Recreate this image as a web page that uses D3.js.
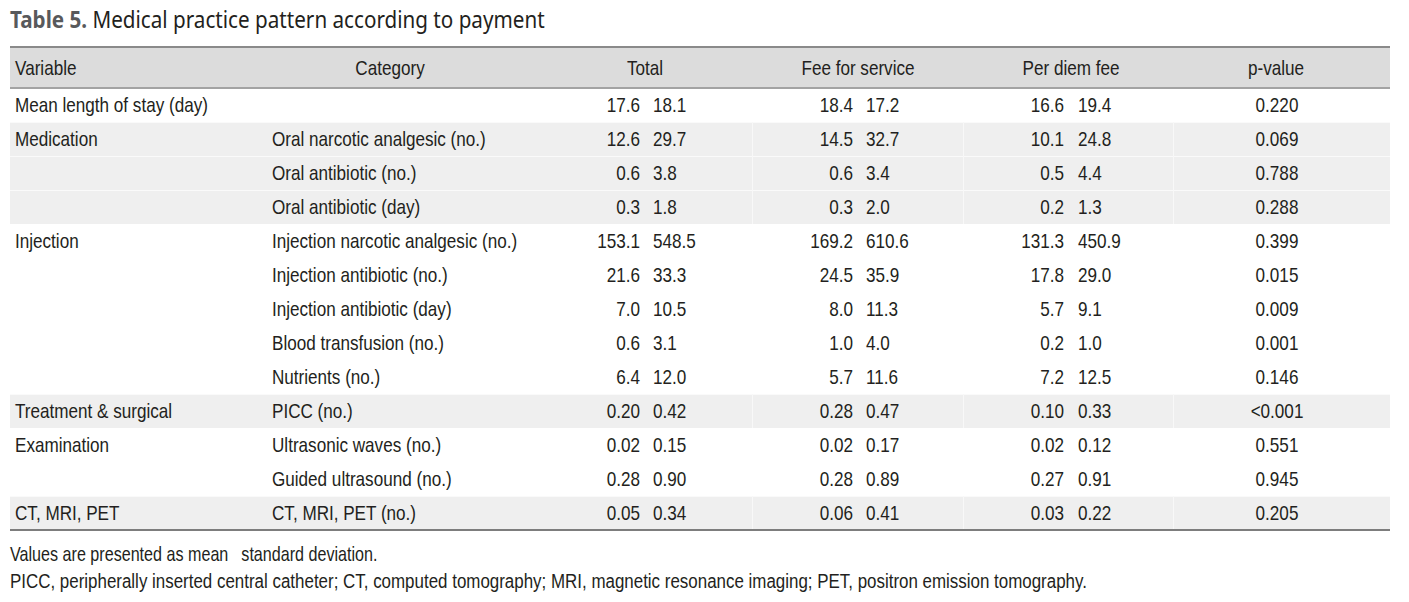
<!DOCTYPE html>
<html>
<head>
<meta charset="utf-8">
<script src="https://cdn.jsdelivr.net/npm/d3@7"></script>
<style>
html,body{margin:0;padding:0;background:#fff;}
svg{display:block;}
</style>
</head>
<body>
<svg id="chart" width="1409" height="602"></svg>
<script>
// ---- data ----
const titleBold = "Table 5.";
const titleText = "Medical practice pattern according to payment";
const headers = ["Variable", "Category", "Total", "Fee for service", "Per diem fee", "p-value"];
const variables = ["Mean length of stay (day)", "Medication", "", "", "Injection", "", "", "", "", "Treatment & surgical", "Examination", "", "CT, MRI, PET"];
const groups = [0, 1, 1, 1, 2, 2, 2, 2, 2, 3, 4, 4, 5];
const categories = ["", "Oral narcotic analgesic (no.)", "Oral antibiotic (no.)", "Oral antibiotic (day)", "Injection narcotic analgesic (no.)", "Injection antibiotic (no.)", "Injection antibiotic (day)", "Blood transfusion (no.)", "Nutrients (no.)", "PICC (no.)", "Ultrasonic waves (no.)", "Guided ultrasound (no.)", "CT, MRI, PET (no.)"];
const totalMean = ["17.6", "12.6", "0.6", "0.3", "153.1", "21.6", "7.0", "0.6", "6.4", "0.20", "0.02", "0.28", "0.05"];
const totalSD   = ["18.1", "29.7", "3.8", "1.8", "548.5", "33.3", "10.5", "3.1", "12.0", "0.42", "0.15", "0.90", "0.34"];
const feeMean   = ["18.4", "14.5", "0.6", "0.3", "169.2", "24.5", "8.0", "1.0", "5.7", "0.28", "0.02", "0.28", "0.06"];
const feeSD     = ["17.2", "32.7", "3.4", "2.0", "610.6", "35.9", "11.3", "4.0", "11.6", "0.47", "0.17", "0.89", "0.41"];
const perMean   = ["16.6", "10.1", "0.5", "0.2", "131.3", "17.8", "5.7", "0.2", "7.2", "0.10", "0.02", "0.27", "0.03"];
const perSD     = ["19.4", "24.8", "4.4", "1.3", "450.9", "29.0", "9.1", "1.0", "12.5", "0.33", "0.12", "0.91", "0.22"];
const pValues   = ["0.220", "0.069", "0.788", "0.288", "0.399", "0.015", "0.009", "0.001", "0.146", "<0.001", "0.551", "0.945", "0.205"];
const footnote1a = "Values are presented as mean";
const footnote1b = "standard deviation.";
const footnote2 = "PICC, peripherally inserted central catheter; CT, computed tomography; MRI, magnetic resonance imaging; PET, positron emission tomography.";

// ---- layout ----
const svg = d3.select("#chart");
const FONT = "'Liberation Sans',Arial,sans-serif";
const FS = 21;
const TXT = "#231f20";
const left = 10, right = 1390;
const headTop = 47, headBottom = 88;
const nRows = categories.length;
const y = d3.scaleBand().domain(d3.range(nRows)).range([headBottom, headBottom + nRows * 34]);

// condensed look: horizontal squeeze factor measured from a reference string (193px wide in the original)
const probe = svg.append("text").attr("font-family", FONT).attr("font-size", FS).text("Mean length of stay (day)");
const SX = 193 / probe.node().getComputedTextLength();
probe.remove();

function addText(g, x, yy, str, anchor, size) {
  return g.append("text")
    .attr("transform", `translate(${x},${yy}) scale(${SX},1)`)
    .attr("text-anchor", anchor || "start")
    .attr("font-family", FONT).attr("font-size", size || FS).attr("fill", TXT)
    .text(str);
}

// title (semi-condensed humanist look)
const title = svg.append("text")
  .attr("font-family", "'Noto Sans','Open Sans',sans-serif").attr("font-size", 23).attr("fill", TXT);
title.append("tspan").attr("font-weight", "bold").attr("fill", "#58595b").text(titleBold);
title.append("tspan").text(" " + titleText);
const TSX = 535 / title.node().getComputedTextLength();
title.attr("transform", `translate(10,28) scale(${TSX},1)`);

// header background
svg.append("rect").attr("x", left).attr("y", headTop).attr("width", right - left).attr("height", headBottom - headTop).attr("fill", "#dcdcdc");

// row bands
svg.append("g").selectAll("rect").data(d3.range(nRows)).join("rect")
  .attr("x", left).attr("y", i => y(i)).attr("width", right - left).attr("height", y.bandwidth())
  .attr("fill", i => groups[i] % 2 === 1 ? "#efefef" : "#ffffff");

// faint separators inside gray rows
const colBounds = [752, 963, 1173];
const grayRows = d3.range(nRows).filter(i => groups[i] % 2 === 1);
svg.append("g").selectAll("line").data(grayRows).join("line")
  .attr("x1", left).attr("x2", right).attr("y1", i => y(i) + 0.5).attr("y2", i => y(i) + 0.5)
  .attr("stroke", "#fafafa").attr("stroke-width", 1);
const vg = svg.append("g");
grayRows.forEach(i => {
  colBounds.forEach(cx => {
    vg.append("line").attr("x1", cx + 0.5).attr("x2", cx + 0.5).attr("y1", y(i)).attr("y2", y(i) + y.bandwidth())
      .attr("stroke", "#f8f8f8").attr("stroke-width", 1);
  });
});

// borders
svg.append("line").attr("x1", left).attr("x2", right).attr("y1", headTop).attr("y2", headTop).attr("stroke", "#8a8a8a").attr("stroke-width", 2);
svg.append("line").attr("x1", left).attr("x2", right).attr("y1", headBottom).attr("y2", headBottom).attr("stroke", "#a3a3a3").attr("stroke-width", 2);
svg.append("line").attr("x1", left).attr("x2", right).attr("y1", y(nRows - 1) + y.bandwidth()).attr("y2", y(nRows - 1) + y.bandwidth()).attr("stroke", "#7d7d7d").attr("stroke-width", 2);

// header text
const headX = [15, 390, 645, 858, 1071, 1276];
const headAnchor = ["start", "middle", "middle", "middle", "middle", "middle"];
const hg = svg.append("g");
headers.forEach((h, i) => addText(hg, headX[i], 75, h, headAnchor[i]));

// body columns
const cols = [
  {data: variables, x: 15, anchor: "start"},
  {data: categories, x: 272, anchor: "start"},
  {data: totalMean, x: 640, anchor: "end"},
  {data: totalSD, x: 653, anchor: "start"},
  {data: feeMean, x: 853, anchor: "end"},
  {data: feeSD, x: 866, anchor: "start"},
  {data: perMean, x: 1064, anchor: "end"},
  {data: perSD, x: 1078, anchor: "start"},
  {data: pValues, x: 1277, anchor: "middle"}
];
const body = svg.append("g");
cols.forEach(c => {
  c.data.forEach((d, i) => { if (d) addText(body, c.x, y(i) + 24, d, c.anchor); });
});

// footnotes
const fg = svg.append("g");
const f1 = addText(fg, 10, 561, footnote1a, "start", 19.8);
const f1w = f1.node().getComputedTextLength() * SX;
addText(fg, 10 + f1w + 13, 561, footnote1b, "start", 19.8);
addText(fg, 10, 588, footnote2, "start", 20.8);
</script>
</body>
</html>
